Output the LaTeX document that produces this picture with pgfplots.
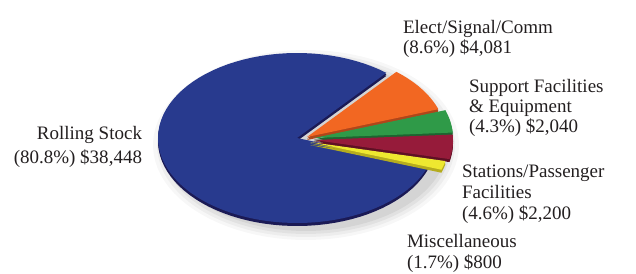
\documentclass[border=0pt]{standalone}
\usepackage{pgfplots}
\pgfplotsset{compat=1.18}
\usepackage{fontspec}
\setmainfont{Liberation Serif}
\definecolor{cBlue}{HTML}{283A8E}
\definecolor{cBlueS}{HTML}{1B1A55}
\definecolor{cOrange}{HTML}{F26722}
\definecolor{cOrangeS}{HTML}{B0461A}
\definecolor{cGreen}{HTML}{2F9A48}
\definecolor{cGreenS}{HTML}{1D6530}
\definecolor{cRed}{HTML}{961B3A}
\definecolor{cRedS}{HTML}{5E1024}
\definecolor{cYellow}{HTML}{EEE830}
\definecolor{cYellowS}{HTML}{B5AC1E}
\definecolor{txt}{HTML}{231F20}
% data, in thousands of the chart's units ($38,448 -> 38.448)
\def\vRS{38.448}
\def\vES{4.081}
\def\vSF{2.040}
\def\vSP{2.200}
\def\vMI{0.800}
\def\cx{297}
\def\cy{138}
\def\rx{139}
\def\ry{85}
\newcommand{\slice}[5]{%
  \addplot[draw=none, fill=#1, domain=#2:#3, samples=80, variable=\t]
    ({\cx+#4+\rx*cos(\t)}, {\cy+#5-\ry*sin(\t)}) -- (axis cs:\cx+#4,\cy+#5) -- cycle;
}
\newcommand{\shadow}[3]{%
  \addplot[draw=none, fill=black, fill opacity=#3, domain=0:360, samples=90, variable=\t]
    ({306+#1*cos(\t)}, {145-#2*sin(\t)}) -- cycle;
}
\begin{document}
\begin{tikzpicture}
\pgfmathsetmacro{\tot}{\vRS+\vES+\vSF+\vSP+\vMI}
\pgfmathsetmacro{\aO}{50}
\pgfmathsetmacro{\aG}{\aO-\vES/\tot*360}
\pgfmathsetmacro{\aR}{\aG-\vSF/\tot*360}
\pgfmathsetmacro{\aY}{\aR-\vSP/\tot*360}
\pgfmathsetmacro{\aB}{\aY-\vMI/\tot*360}
\pgfmathsetmacro{\aE}{\aB-\vRS/\tot*360}
\begin{axis}[width=636pt,height=273pt,scale only axis,
  xmin=0,xmax=636,ymin=0,ymax=273,y dir=reverse,
  hide axis,clip=false]
\path (axis cs:0,0) rectangle (axis cs:636,273);
% soft shadow
\shadow{153}{95}{0.03}
\shadow{149}{92}{0.04}
\shadow{145}{89}{0.05}
\shadow{141}{86}{0.06}
% blue
\slice{cBlueS}{\aE}{\aB}{0}{3}
\slice{cBlueS}{\aE}{\aB}{0}{1.5}
\slice{cBlue}{\aE}{\aB}{0}{0}
% orange
\slice{cOrangeS}{\aG}{\aO}{10}{2}
\slice{cOrangeS}{\aG}{\aO}{10}{0.5}
\slice{cOrange}{\aG}{\aO}{10}{-1}
% green
\slice{cGreenS}{\aR}{\aG}{17}{3}
\slice{cGreenS}{\aR}{\aG}{17}{1.5}
\slice{cGreen}{\aR}{\aG}{17}{0}
% red
\slice{cRedS}{\aY}{\aR}{17}{5}
\slice{cRedS}{\aY}{\aR}{17}{3.5}
\slice{cRed}{\aY}{\aR}{17}{2}
% yellow
\slice{cYellowS}{\aB}{\aY}{13}{7}
\slice{cYellowS}{\aB}{\aY}{13}{5.5}
\slice{cYellow}{\aB}{\aY}{13}{4}
% labels
\begin{scope}[every node/.style={inner sep=0pt,outer sep=0pt,text=txt,font=\fontsize{19}{21}\selectfont}]
\node[anchor=base east] at (axis cs:142,139) {Rolling Stock};
\node[anchor=base east] at (axis cs:142,163) {(80.8\%) \$38,448};
\node[anchor=base west] at (axis cs:403,33) {Elect/Signal/Comm};
\node[anchor=base west] at (axis cs:403,53.5) {(8.6\%) \$4,081};
\node[anchor=base west] at (axis cs:469,92) {Support Facilities};
\node[anchor=base west] at (axis cs:469,112) {\& Equipment};
\node[anchor=base west] at (axis cs:469,132) {(4.3\%) \$2,040};
\node[anchor=base west] at (axis cs:462,177) {Stations/Passenger};
\node[anchor=base west] at (axis cs:462,198) {Facilities};
\node[anchor=base west] at (axis cs:462,219) {(4.6\%) \$2,200};
\node[anchor=base west] at (axis cs:407,247) {Miscellaneous};
\node[anchor=base west] at (axis cs:407,268) {(1.7\%) \$800};
\end{scope}
\end{axis}
\end{tikzpicture}
\end{document}
